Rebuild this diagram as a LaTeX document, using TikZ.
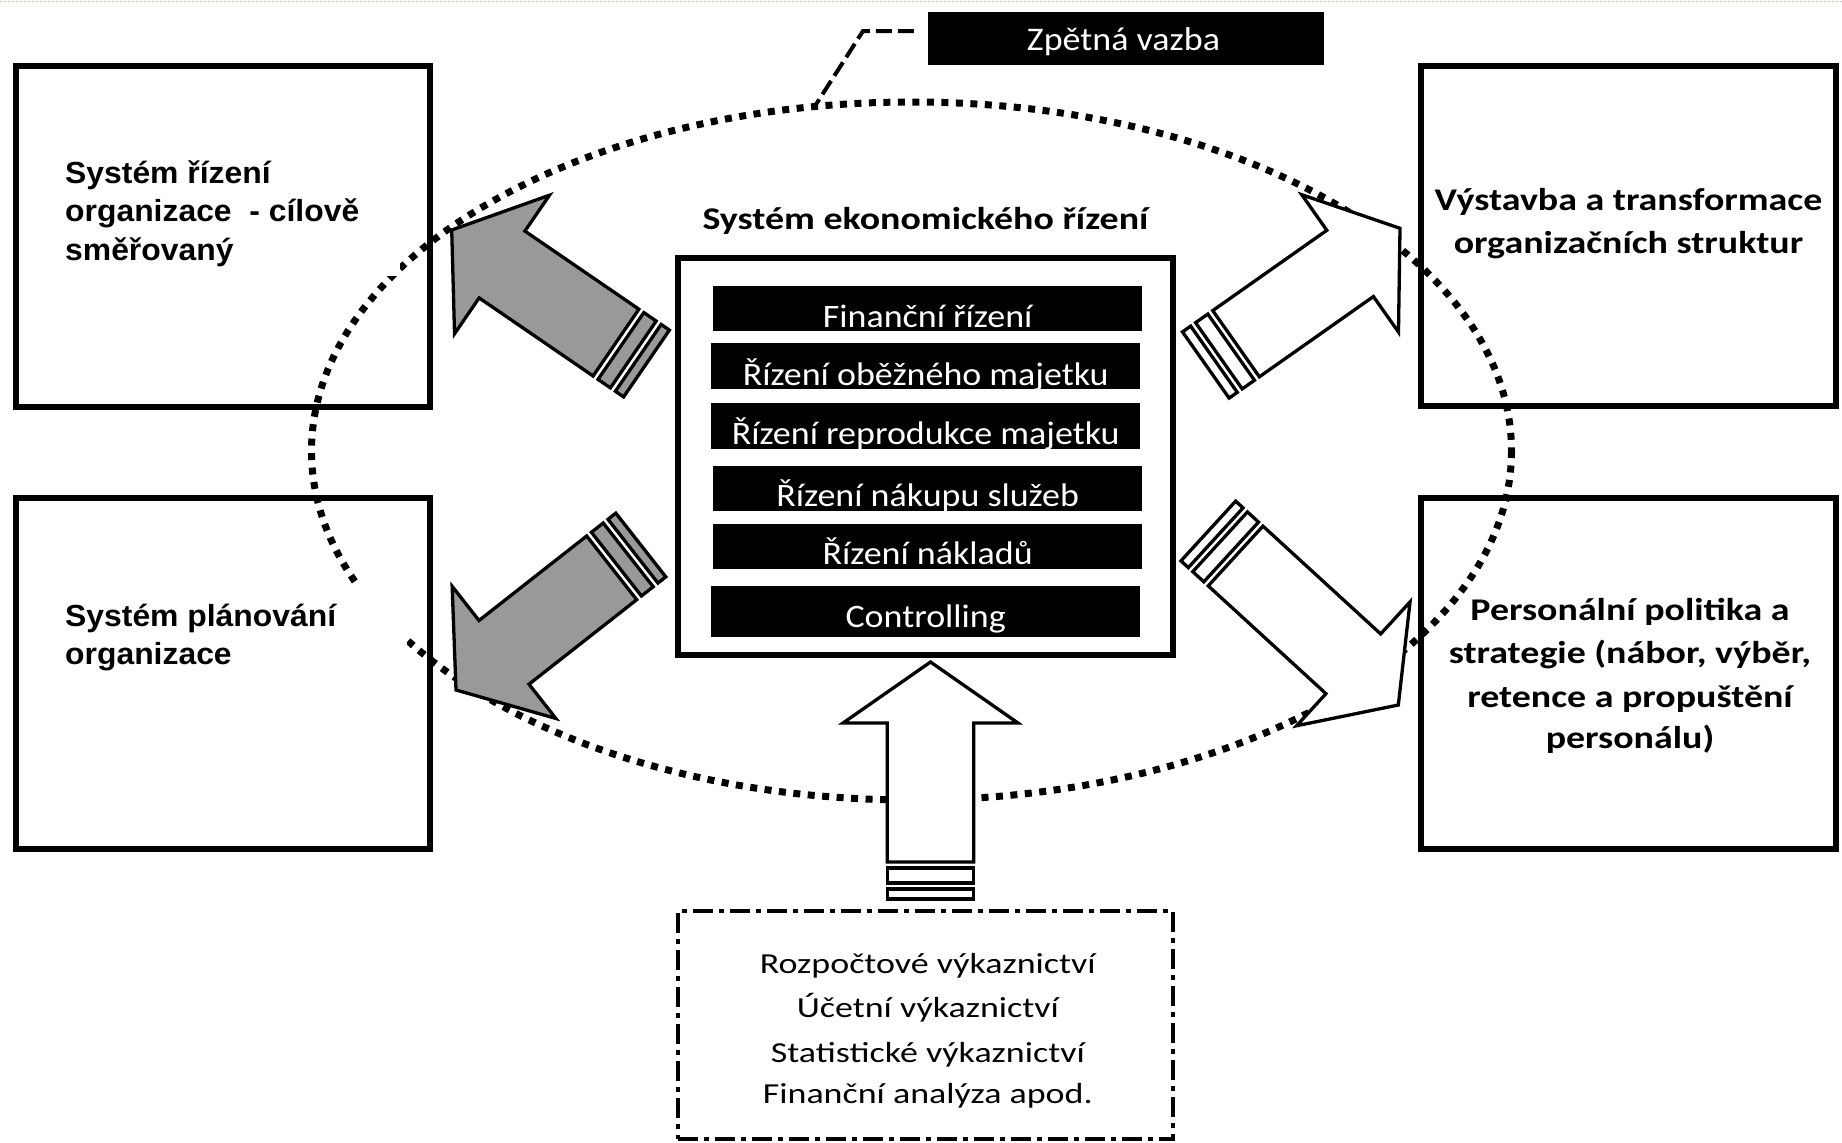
\documentclass[tikz,border=0pt]{standalone}
\usepackage{fontspec}
\setmainfont{Carlito}
\newfontfamily\barfont{Carlito}[FakeStretch=1.10]
\newfontfamily\botfont{Carlito}[FakeStretch=1.24]
\newfontfamily\zvfont{Carlito}[FakeStretch=1.09]
\newfontfamily\boldcal{Carlito}[FakeStretch=1.20]
\newfontfamily\arialb{Liberation Sans}[FakeStretch=1.045]
\usetikzlibrary{calc}
\definecolor{arrgray}{RGB}{153,153,153}
\definecolor{topyellow}{RGB}{235,215,40}

% #1 tail, #2 tip, #3 fill, #4 shaft half width, #5 head half width
\newcommand{\StrArrow}[5]{%
  \draw[arrline, fill=#3]
    ($(#1)!37pt!(#2)!#4!90:(#2)$) --
    ($(#2)!61pt!(#1)!#4!90:(#2)$) --
    ($(#2)!61pt!(#1)!#5!90:(#2)$) --
    (#2) --
    ($(#2)!61pt!(#1)!#5!-90:(#2)$) --
    ($(#2)!61pt!(#1)!#4!-90:(#2)$) --
    ($(#1)!37pt!(#2)!#4!-90:(#2)$) -- cycle;
  \draw[arrline, fill=#3]
    ($(#1)!16pt!(#2)!#4!90:(#2)$) -- ($(#1)!31pt!(#2)!#4!90:(#2)$) --
    ($(#1)!31pt!(#2)!#4!-90:(#2)$) -- ($(#1)!16pt!(#2)!#4!-90:(#2)$) -- cycle;
  \draw[arrline, fill=#3]
    ($(#1)!#4!90:(#2)$) -- ($(#1)!10pt!(#2)!#4!90:(#2)$) --
    ($(#1)!10pt!(#2)!#4!-90:(#2)$) -- ($(#1)!#4!-90:(#2)$) -- cycle;
}

\begin{document}
\begin{tikzpicture}[x=1pt,y=-1pt,
  outerbox/.style={draw=black, line width=6.5pt, minimum width=#1, inner sep=0pt},
  arrline/.style={draw=black, line width=3.3pt, line join=miter},
  dotline/.style={draw=black, line width=7pt, dash pattern=on 7pt off 7.5pt},
  barbox/.style={fill=black, draw=none, inner sep=0pt, minimum width=429pt},
  lefttext/.style={anchor=base west, inner sep=0pt, font=\arialb\bfseries\fontsize{30.5}{36}\selectfont},
  righttext/.style={anchor=base, inner sep=0pt, font=\boldcal\bfseries\fontsize{31.6}{38}\selectfont},
  bartext/.style={anchor=base, inner sep=0pt, text=white, font=\barfont\fontsize{32.7}{38}\selectfont},
  bottext/.style={anchor=base, inner sep=0pt, font=\botfont\fontsize{29}{35}\selectfont},
  zvtext/.style={anchor=base, inner sep=0pt, text=white, font=\zvfont\fontsize{33}{38}\selectfont}
]
\useasboundingbox (0,0) rectangle (1842,1143);
\fill[white] (0,0) rectangle (1842,1143);
\draw[topyellow, line width=1.5pt, dash pattern=on 2pt off 2pt] (0,1.5) -- (1842,1.5);

% outer boxes
\node[outerbox=414pt, minimum height=341pt] (ulbox) at (223,236.5) {};
\node[outerbox=414pt, minimum height=351pt] (llbox) at (223,673.5) {};
\node[outerbox=415pt, minimum height=340pt] (urbox) at (1628.5,236) {};
\node[outerbox=415pt, minimum height=351pt] (lrbox) at (1628.5,673.5) {};

% dotted ellipse
\draw[dotline] (911.5,451) ellipse [x radius=600, y radius=349];

% white text-box backgrounds hiding parts of the ellipse
\fill[white] (40,90) rectangle (400,276);
\fill[white] (40,584) rectangle (407,700);

% feedback leader
\node[fill=black, draw=none, inner sep=0pt, minimum width=396pt, minimum height=53pt] (zvbox) at (1126,38.5) {};
\node[zvtext] (zvlabel) at (1123.5,50) {Zpětná vazba};
\coordinate (zl1) at (863,31);
\coordinate (zl2) at (815,106);
\draw[line width=4pt, dash pattern=on 16pt off 6pt] ($(zvbox.west)+(-14,-7.5)$) -- (zl1) -- (zl2);

% arrows
\coordinate (ULt) at (646.5,363.5); \coordinate (ULp) at (451.7,230);
\coordinate (URt) at (1205.8,365);  \coordinate (URp) at (1400,228.3);
\coordinate (LLt) at (640.8,545);   \coordinate (LLp) at (456,690);
\coordinate (LRt) at (1208.3,531);  \coordinate (LRp) at (1398.3,705);
\coordinate (UPt) at (930.5,899);   \coordinate (UPp) at (930.5,662);
\StrArrow{ULt}{ULp}{arrgray}{40.5pt}{84pt}
\StrArrow{LLt}{LLp}{arrgray}{40.5pt}{84pt}
\StrArrow{URt}{URp}{white}{40.5pt}{84pt}
\StrArrow{LRt}{LRp}{white}{40.5pt}{84pt}
\StrArrow{UPt}{UPp}{white}{43.3pt}{87.5pt}

% central box
\node[righttext] (title) at (925.5,229) {Systém ekonomického řízení};
\node[draw=black, fill=white, line width=6.5pt, inner sep=0pt, minimum width=495pt, minimum height=397pt] (center) at (925.5,456.5) {};
\node[barbox, minimum height=45pt] (b1) at (927.7,308.5) {};
\node[barbox, minimum height=46pt] (b2) at (925.7,366) {};
\node[barbox, minimum height=46pt] (b3) at (925.7,426) {};
\node[barbox, minimum height=45pt] (b4) at (927.7,488.5) {};
\node[barbox, minimum height=45pt] (b5) at (927.7,546.5) {};
\node[barbox, minimum height=51pt] (b6) at (925.7,611.5) {};
\node[bartext] (t1) at ($(b1.south)+(0,-3.7)$) {Finanční řízení};
\node[bartext] (t2) at ($(b2.south)+(0,-4)$) {Řízení oběžného majetku};
\node[bartext] (t3) at ($(b3.south)+(0,-5)$) {Řízení reprodukce majetku};
\node[bartext] (t4) at ($(b4.south)+(0,-4.3)$) {Řízení nákupu služeb};
\node[bartext] (t5) at ($(b5.south)+(0,-5)$) {Řízení nákladů};
\node[bartext] (t6) at ($(b6.south)+(0,-10)$) {Controlling};

% bottom box
\node[draw=black, line width=4pt, dash pattern=on 20pt off 6pt on 5pt off 6pt, inner sep=0pt, minimum width=495.5pt, minimum height=228pt] (bottom) at (925.25,1025) {};
\node[bottext] (r1) at (927.8,973) {Rozpočtové výkaznictví};
\node[bottext] (r2) at (927.8,1017) {Účetní výkaznictví};
\node[bottext] (r3) at (927.8,1062) {Statistické výkaznictví};
\node[bottext] (r4) at (927.8,1103) {Finanční analýza apod.};

% outer box texts
\node[lefttext] (ul1) at (65,183.3) {Systém řízení};
\node[lefttext] (ul2) at (65,221.7) {organizace~ - cílově};
\node[lefttext] (ul3) at (65,260) {směřovaný};
\node[lefttext] (ll1) at (65,626.7) {Systém plánování};
\node[lefttext] (ll2) at (65,664.5) {organizace};
\node[righttext] (ur1) at (1628.5,210) {Výstavba a transformace};
\node[righttext] (ur2) at (1628.5,253) {organizačních struktur};
\node[righttext] (lr1) at (1630,620) {Personální politika a};
\node[righttext] (lr2) at (1630,663.5) {strategie (nábor, výběr,};
\node[righttext] (lr3) at (1630,707) {retence a propuštění};
\node[righttext] (lr4) at (1630,748.5) {personálu)};
\end{tikzpicture}
\end{document}
